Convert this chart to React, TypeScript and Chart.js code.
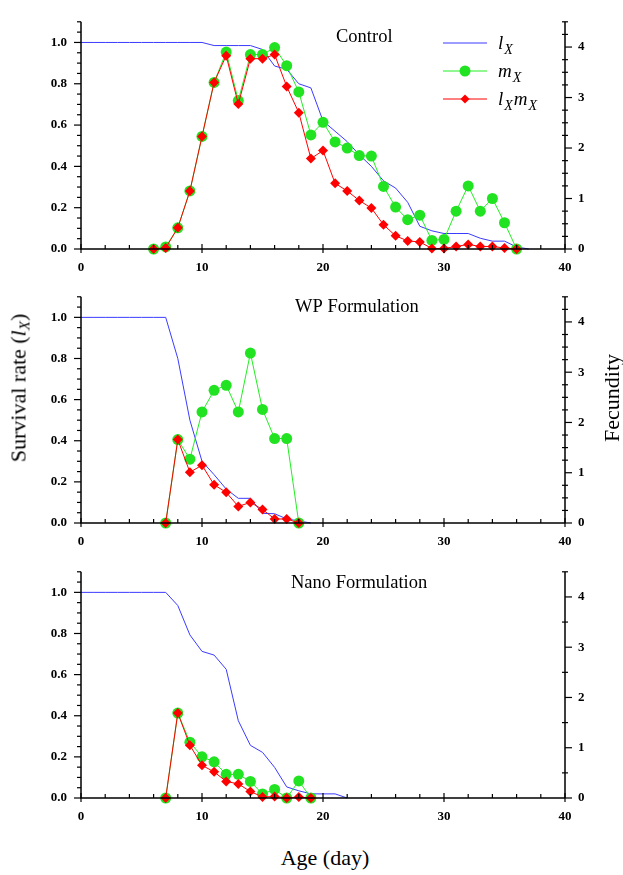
import React, { useEffect, useRef } from 'react';
import { Chart, registerables } from 'chart.js';

Chart.register(...registerables);

const SERIF = '"Liberation Serif", "Times New Roman", serif';

// ---------- Control ----------
const CONTROL_LX_AGE = [0,1,2,3,4,5,6,7,8,9,10,11,12,13,14,15,16,17,18,19,20,21,22,23,24,25,26,27,28,29,30,31,32,33,34,35,36,37];
const CONTROL_LX = [1,1,1,1,1,1,1,1,1,1,1,0.985,0.985,0.985,0.985,0.966,0.886,0.87,0.8,0.78,0.62,0.57,0.52,0.456,0.4,0.33,0.295,0.226,0.11,0.088,0.075,0.075,0.075,0.052,0.038,0.038,0.01,0];
const CONTROL_MX_AGE = [6,7,8,9,10,11,12,13,14,15,16,17,18,19,20,21,22,23,24,25,26,27,28,29,30,31,32,33,34,35,36];
const CONTROL_MX = [0,0.04,0.42,1.15,2.23,3.3,3.9,2.94,3.85,3.85,3.99,3.63,3.11,2.26,2.51,2.12,2.0,1.85,1.84,1.24,0.83,0.58,0.67,0.17,0.19,0.75,1.25,0.75,1.0,0.52,0];
const CONTROL_LXMX = [0,0.02,0.42,1.15,2.23,3.3,3.83,2.87,3.77,3.77,3.85,3.22,2.7,1.79,1.95,1.3,1.15,0.96,0.81,0.48,0.26,0.16,0.14,0.01,0.01,0.05,0.09,0.05,0.05,0.02,0];

// ---------- WP Formulation ----------
const WP_LX_AGE = [0,1,2,3,4,5,6,7,8,9,10,11,12,13,14,15,16,17,18,19];
const WP_LX = [1,1,1,1,1,1,1,1,0.8,0.5,0.3,0.235,0.165,0.12,0.12,0.047,0.045,0.02,0.01,0];
const WP_MX_AGE = [7,8,9,10,11,12,13,14,15,16,17,18];
const WP_MX = [0,1.66,1.27,2.21,2.64,2.74,2.21,3.38,2.26,1.68,1.68,0];
const WP_LXMX = [0,1.66,1.01,1.15,0.76,0.61,0.33,0.41,0.27,0.08,0.08,0];

// ---------- Nano Formulation ----------
const NANO_LX_AGE = [0,1,2,3,4,5,6,7,8,9,10,11,12,13,14,15,16,17,18,19,20,21,22];
const NANO_LX = [1,1,1,1,1,1,1,1,0.936,0.793,0.713,0.695,0.626,0.376,0.256,0.222,0.149,0.054,0.035,0.02,0.02,0.02,0];
const NANO_MX_AGE = [7,8,9,10,11,12,13,14,15,16,17,18,19];
const NANO_MX = [0,1.69,1.11,0.82,0.72,0.47,0.47,0.33,0.08,0.17,0,0.34,0];
const NANO_LXMX = [0,1.69,1.05,0.65,0.52,0.33,0.28,0.13,0.02,0.03,0,0.02,0];

// ---------- Axes ----------
const X_MAJOR_TICKS = [0, 10, 20, 30, 40];
const X_MINOR_STEP = 2;
const LEFT_MAJOR_TICKS = [0, 0.2, 0.4, 0.6, 0.8, 1.0];
const LEFT_MINOR_STEP = 0.05;
const RIGHT_MAJOR_TICKS = [0, 1, 2, 3, 4];
const X_MIN = 0, X_MAX = 40;
const LEFT_MAX = 1.1;
const RIGHT_MAX = 4.5;

const PANEL_TITLES = ['Control', 'WP Formulation', 'Nano Formulation'];

const BLUE = '#3b3bff';
const GREEN_LINE = '#22ee22';
const GREEN_PT = '#22e322';
const RED = '#ff0000';

const toPts = (ages: number[], vals: number[]) => ages.map((a, i) => ({ x: a, y: vals[i] }));

function drawRich(ctx: CanvasRenderingContext2D, x: number, y: number, parts: [string, boolean][], size: number) {
  let cx = x;
  for (const [t, sub] of parts) {
    ctx.font = `italic ${sub ? Math.round(size * 0.75) : size}px ${SERIF}`;
    ctx.fillText(t, cx, sub ? y + size * 0.28 : y);
    cx += ctx.measureText(t).width + (sub ? 1 : 1);
  }
}

const decorPlugin = {
  id: 'panelDecor',
  afterDraw(chart: any, _args: any, opts: any) {
    const ctx: CanvasRenderingContext2D = chart.ctx;
    const { x, y, y2 } = chart.scales;
    const a = chart.chartArea;
    ctx.save();
    ctx.strokeStyle = '#000';
    ctx.lineWidth = 1.5;
    // axis lines
    ctx.beginPath();
    ctx.moveTo(a.left, a.top);
    ctx.lineTo(a.left, a.bottom);
    ctx.lineTo(a.right, a.bottom);
    ctx.moveTo(a.right, a.top);
    ctx.lineTo(a.right, a.bottom);
    ctx.stroke();
    ctx.lineWidth = 1.2;
    // x ticks
    for (let v = X_MIN; v <= X_MAX + 1e-9; v += X_MINOR_STEP) {
      const px = x.getPixelForValue(v);
      const major = X_MAJOR_TICKS.includes(v);
      ctx.beginPath();
      ctx.moveTo(px, a.bottom + (major ? 4 : 0));
      ctx.lineTo(px, a.bottom - (major ? 5 : 4));
      ctx.stroke();
    }
    // left ticks
    for (let i = 0; i * LEFT_MINOR_STEP <= LEFT_MAX + 1e-9; i++) {
      const v = i * LEFT_MINOR_STEP;
      const py = y.getPixelForValue(v);
      const major = i % 4 === 0;
      ctx.beginPath();
      ctx.moveTo(a.left, py);
      ctx.lineTo(a.left - (major ? 7 : 4), py);
      ctx.stroke();
    }
    // right ticks
    const rs = opts.rightMinor;
    for (let i = 0; i * rs <= RIGHT_MAX + 1e-9; i++) {
      const v = i * rs;
      const py = y2.getPixelForValue(v);
      const major = Math.abs(v - Math.round(v)) < 1e-9;
      ctx.beginPath();
      ctx.moveTo(a.right - (major ? 0 : 3), py);
      ctx.lineTo(a.right + (major ? 7 : 3), py);
      ctx.stroke();
    }
    // title
    ctx.fillStyle = '#000';
    ctx.font = `18.5px ${SERIF}`;
    ctx.textBaseline = 'middle';
    ctx.textAlign = 'left';
    ctx.fillText(opts.title, opts.titleX, opts.titleY);
    // legend
    if (opts.legend) {
      const lx0 = 443, lx1 = 487, tx = 498;
      const rows: { y: number; color: string; marker: string | null; parts: [string, boolean][] }[] = [
        { y: 43, color: BLUE, marker: null, parts: [['l', false], ['X', true]] },
        { y: 71, color: GREEN_LINE, marker: 'circle', parts: [['m', false], ['X', true]] },
        { y: 99, color: RED, marker: 'diamond', parts: [['l', false], ['X', true], ['m', false], ['X', true]] },
      ];
      ctx.textBaseline = 'alphabetic';
      for (const r of rows) {
        ctx.strokeStyle = r.color;
        ctx.lineWidth = 1;
        ctx.beginPath();
        ctx.moveTo(lx0, r.y);
        ctx.lineTo(lx1, r.y);
        ctx.stroke();
        if (r.marker === 'circle') {
          ctx.fillStyle = GREEN_PT;
          ctx.beginPath();
          ctx.arc((lx0 + lx1) / 2, r.y, 5.5, 0, Math.PI * 2);
          ctx.fill();
        } else if (r.marker === 'diamond') {
          ctx.fillStyle = RED;
          const cx = (lx0 + lx1) / 2, s = 4.5;
          ctx.beginPath();
          ctx.moveTo(cx, r.y - s);
          ctx.lineTo(cx + s, r.y);
          ctx.lineTo(cx, r.y + s);
          ctx.lineTo(cx - s, r.y);
          ctx.closePath();
          ctx.fill();
        }
        ctx.fillStyle = '#000';
        drawRich(ctx, tx, r.y + 6, r.parts, 19);
      }
    }
    ctx.restore();
  },
};

const PANELS = [
  { title: PANEL_TITLES[0], lxAge: CONTROL_LX_AGE, lx: CONTROL_LX, mxAge: CONTROL_MX_AGE, mx: CONTROL_MX, lxmx: CONTROL_LXMX, top: 0, xHeight: 31, titleX: 336, titleY: 37, legend: true, rightMinor: 0.25 },
  { title: PANEL_TITLES[1], lxAge: WP_LX_AGE, lx: WP_LX, mxAge: WP_MX_AGE, mx: WP_MX, lxmx: WP_LXMX, top: 275, xHeight: 32, titleX: 295, titleY: 32, legend: false, rightMinor: 0.25 },
  { title: PANEL_TITLES[2], lxAge: NANO_LX_AGE, lx: NANO_LX, mxAge: NANO_MX_AGE, mx: NANO_MX, lxmx: NANO_LXMX, top: 550, xHeight: 32, titleX: 291, titleY: 33, legend: false, rightMinor: 0.5 },
];

const tickFont = { family: SERIF, size: 13, weight: 'bold' as const };

function makeConfig(p: any): any {
  return {
    type: 'line',
    data: {
      datasets: [
        { label: 'lxmx', data: toPts(p.mxAge, p.lxmx), yAxisID: 'y2', borderColor: RED, backgroundColor: RED, borderWidth: 1, pointStyle: 'rectRot', pointRadius: 5, pointBorderWidth: 0, pointBackgroundColor: RED, order: 0, clip: false, tension: 0 },
        { label: 'mx', data: toPts(p.mxAge, p.mx), yAxisID: 'y2', borderColor: GREEN_LINE, backgroundColor: GREEN_PT, borderWidth: 1, pointStyle: 'circle', pointRadius: 5.5, pointBorderWidth: 0, pointBackgroundColor: GREEN_PT, order: 1, clip: false, tension: 0 },
        { label: 'lx', data: toPts(p.lxAge, p.lx), yAxisID: 'y', borderColor: BLUE, borderWidth: 1, pointRadius: 0, order: 2, clip: false, tension: 0 },
      ],
    },
    options: {
      responsive: false,
      animation: false,
      devicePixelRatio: 1,
      events: [],
      layout: { padding: { top: 10, left: 0, right: 0, bottom: 0 } },
      plugins: {
        legend: { display: false },
        tooltip: { enabled: false },
        panelDecor: { title: p.title, titleX: p.titleX, titleY: p.titleY, legend: p.legend, rightMinor: p.rightMinor },
      },
      scales: {
        x: {
          type: 'linear', min: X_MIN, max: X_MAX,
          grid: { display: false, drawTicks: false }, border: { display: false },
          ticks: { font: tickFont, color: '#000', padding: 11, maxRotation: 0 },
          afterBuildTicks: (s: any) => { s.ticks = X_MAJOR_TICKS.map((v) => ({ value: v })); },
          afterFit: (s: any) => { s.height = p.xHeight; },
        },
        y: {
          type: 'linear', position: 'left', min: 0, max: LEFT_MAX,
          grid: { display: false, drawTicks: false }, border: { display: false },
          ticks: { font: tickFont, color: '#000', padding: 14, callback: (v: any) => Number(v).toFixed(1) },
          afterBuildTicks: (s: any) => { s.ticks = LEFT_MAJOR_TICKS.map((v) => ({ value: v })); },
          afterFit: (s: any) => { s.width = 81; },
        },
        y2: {
          type: 'linear', position: 'right', min: 0, max: RIGHT_MAX,
          grid: { display: false, drawTicks: false }, border: { display: false },
          ticks: { font: tickFont, color: '#000', padding: 13, callback: (v: any) => String(Math.round(Number(v))) },
          afterBuildTicks: (s: any) => { s.ticks = RIGHT_MAJOR_TICKS.map((v) => ({ value: v })); },
          afterFit: (s: any) => { s.width = 58; },
        },
      },
    },
    plugins: [decorPlugin],
  };
}

export default function App() {
  const refs = [useRef<HTMLCanvasElement>(null), useRef<HTMLCanvasElement>(null), useRef<HTMLCanvasElement>(null)];
  useEffect(() => {
    const charts = PANELS.map((p, i) => new Chart(refs[i].current as HTMLCanvasElement, makeConfig(p)));
    return () => charts.forEach((c) => c.destroy());
  }, []);

  const labelStyle: React.CSSProperties = {
    position: 'absolute', fontFamily: SERIF, fontSize: 22, color: '#000', whiteSpace: 'nowrap', lineHeight: 1,
  };

  return (
    <div style={{ position: 'absolute', left: 0, top: 0, width: 623, height: 875, background: '#fff', overflow: 'hidden' }}>
      {PANELS.map((p, i) => (
        <canvas key={i} ref={refs[i]} width={623} height={280} style={{ position: 'absolute', left: 0, top: p.top, width: 623, height: 280 }} />
      ))}
      <div style={{ ...labelStyle, left: 20, top: 388, transform: 'translate(-50%, -50%) rotate(-90deg)' }}>
        Survival rate (<i>l</i><sub style={{ fontSize: 15, fontStyle: 'italic', verticalAlign: -4 }}>X</sub>)
      </div>
      <div style={{ ...labelStyle, left: 612, top: 398, transform: 'translate(-50%, -50%) rotate(-90deg)' }}>
        Fecundity
      </div>
      <div style={{ ...labelStyle, left: 325, top: 858, transform: 'translate(-50%, -50%)' }}>
        Age (day)
      </div>
    </div>
  );
}
